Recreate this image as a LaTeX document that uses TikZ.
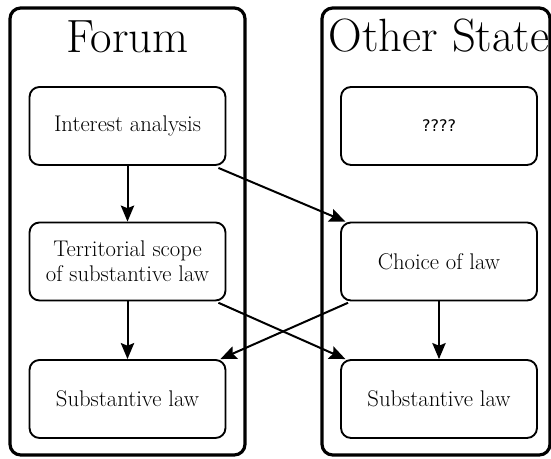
\documentclass[tikz,border=0pt]{standalone}
\usepackage{fontspec}
\usetikzlibrary{arrows.meta}
\newfontfamily\qmarkfont{DejaVu Sans}

\begin{document}
\begin{tikzpicture}[x=0.75pt,y=0.75pt,yscale=-1,xscale=1,
        state/.style={draw,line width=2.4pt,rounded corners=8pt},
        stepbox/.style={draw,line width=1.4pt,rounded corners=7.5pt,minimum width=147pt,minimum height=58.5pt,align=center,inner sep=2pt,font=\fontsize{17}{19}\selectfont},
        flow/.style={line width=1.5pt,-{Stealth[length=12pt,width=10pt,inset=2pt]}},
        title/.style={anchor=base,inner sep=0pt,font=\fontsize{35}{42}\selectfont}]
        \useasboundingbox (0,0) rectangle (551,459);

        %Shape: Rounded Rect [id:forum]
        \draw [state] (10,8) rectangle (245,455);
        %Shape: Rounded Rect [id:other]
        \draw [state] (322,8) rectangle (550,455);

        % Text Node
        \node [title] (forum) at (127.5,53) {Forum};
        % Text Node
        \node [title] (other) at (439,52) {Other State};

        % Forum side
        \node [stepbox] (ia) at (127.5,126) {Interest analysis};
        \node [stepbox] (ts) at (127.5,261.5) {Territorial scope\\of substantive law};
        \node [stepbox] (fsl) at (127.5,399) {Substantive law};

        % Other State side
        \node [stepbox] (qq) at (439,126) {\qmarkfont\fontsize{12}{14}\selectfont ????};
        \node [stepbox] (cl) at (439,261.5) {Choice of law};
        \node [stepbox] (osl) at (439,399) {Substantive law};

        %Straight Lines
        \draw [flow] (ia) -- (ts);
        \draw [flow] (ts) -- (fsl);
        \draw [flow] (cl) -- (osl);
        %Straight Lines
        \draw [flow] ([xshift=-6pt,yshift=1.5pt]ia.south east) -- ([xshift=4pt]cl.north west);
        \draw [flow] ([xshift=-6pt,yshift=1pt]ts.south east) -- ([xshift=4pt]osl.north west);
        \draw [flow] ([xshift=6pt,yshift=1pt]cl.south west) -- ([xshift=-4.5pt]fsl.north east);

\end{tikzpicture}
\end{document}
